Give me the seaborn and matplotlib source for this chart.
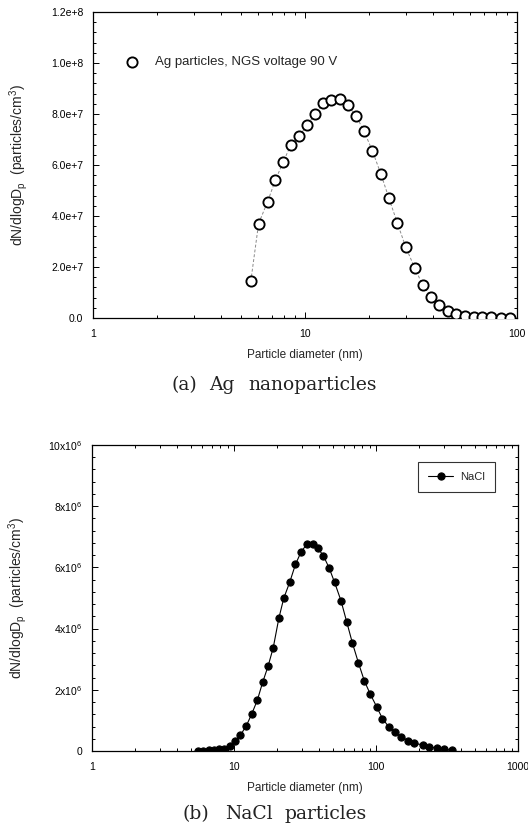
import matplotlib
matplotlib.use("Agg")
import matplotlib.pyplot as plt
import seaborn as sns
import numpy as np
import pandas as pd
from matplotlib.ticker import FixedLocator, NullFormatter, LogLocator

# ---------------- data ----------------
ag_diam = [5.55, 6.04, 6.66, 7.25, 7.88, 8.55, 9.36, 10.26, 11.2, 12.2, 13.3, 14.6,
           15.9, 17.4, 19.0, 20.8, 22.8, 24.9, 27.3, 29.9, 32.9, 35.9, 39.3, 43.0,
           47.1, 51.8, 57.0, 62.4, 68.7, 75.8, 83.6, 92.6]
ag_conc = [1.44e7, 3.70e7, 4.56e7, 5.41e7, 6.10e7, 6.77e7, 7.12e7, 7.58e7, 8.01e7,
           8.43e7, 8.53e7, 8.57e7, 8.35e7, 7.93e7, 7.32e7, 6.55e7, 5.65e7, 4.69e7,
           3.71e7, 2.77e7, 1.97e7, 1.29e7, 0.84e7, 0.52e7, 0.29e7, 0.16e7, 0.09e7,
           0.05e7, 0.03e7, 0.02e7, 0.015e7, 0.01e7]

nacl_diam = [5.56, 6.04, 6.62, 7.21, 7.82, 8.48, 9.30, 10.2, 11.1, 12.2, 13.3, 14.6,
             15.9, 17.4, 18.9, 20.7, 22.4, 24.7, 27.1, 29.7, 32.5, 35.8, 38.8, 42.6,
             46.7, 51.1, 56.7, 62.1, 68.1, 75.1, 82.8, 91.3, 101, 111, 123, 137,
             151, 169, 186, 214, 238, 269, 303, 345]
nacl_conc = [0.01e6, 0.01e6, 0.02e6, 0.03e6, 0.05e6, 0.08e6, 0.16e6, 0.33e6, 0.52e6,
             0.82e6, 1.20e6, 1.66e6, 2.24e6, 2.78e6, 3.38e6, 4.34e6, 4.99e6, 5.52e6,
             6.10e6, 6.51e6, 6.75e6, 6.78e6, 6.64e6, 6.38e6, 5.99e6, 5.51e6, 4.91e6,
             4.23e6, 3.54e6, 2.89e6, 2.29e6, 1.85e6, 1.45e6, 1.06e6, 0.79e6, 0.61e6,
             0.46e6, 0.34e6, 0.25e6, 0.20e6, 0.14e6, 0.09e6, 0.05e6, 0.03e6]

ag_yticks = [0, 2e7, 4e7, 6e7, 8e7, 1.0e8, 1.2e8]
ag_yticklabels = ["0.0", "2.0e+7", "4.0e+7", "6.0e+7", "8.0e+7", "1.0e+8", "1.2e+8"]
ag_xticks = [1, 10, 100]
ag_xticklabels = ["1", "10", "100"]

nacl_yticks = [0, 2e6, 4e6, 6e6, 8e6, 10e6]
nacl_yticklabels = ["0", r"2x10$^\mathregular{6}$", r"4x10$^\mathregular{6}$",
                    r"6x10$^\mathregular{6}$", r"8x10$^\mathregular{6}$",
                    r"10x10$^\mathregular{6}$"]
nacl_xticks = [1, 10, 100, 1000]
nacl_xticklabels = ["1", "10", "100", "1000"]

ag_label = "Ag particles, NGS voltage 90 V"
nacl_label = "NaCl"
xlabel = "Particle diameter (nm)"
ylabel = r"dN/dlogD$_\mathregular{p}$  (particles/cm$^\mathregular{3}$)"
caption_a_words = ["(a)", "Ag", "nanoparticles"]
caption_b_words = ["(b)", "NaCl", "particles"]

# ---------------- style ----------------
sns.set_style("ticks")
plt.rcParams["font.family"] = ["Liberation Sans", "DejaVu Sans"]
plt.rcParams["mathtext.fontset"] = "custom"
plt.rcParams["mathtext.rm"] = "Liberation Sans"
plt.rcParams["axes.linewidth"] = 0.9
plt.rcParams["axes.edgecolor"] = "black"

W, H = 528, 831
fig = plt.figure(figsize=(W / 100, H / 100), dpi=100)
fig.patch.set_facecolor("white")

def frac(l, t, r, b):
    return [l / W, 1 - b / H, (r - l) / W, (b - t) / H]

ax1 = fig.add_axes(frac(93, 12, 517, 318))
ax2 = fig.add_axes(frac(92, 445, 518, 751))

df_ag = pd.DataFrame({"d": ag_diam, "n": ag_conc})
df_na = pd.DataFrame({"d": nacl_diam, "n": nacl_conc})

# top: dashed grey line + open circles
sns.lineplot(data=df_ag, x="d", y="n", ax=ax1, color="#8a8a8a", lw=0.7,
             linestyle=(0, (3, 2)), legend=False, zorder=2)
sns.scatterplot(data=df_ag, x="d", y="n", ax=ax1, marker="o", s=54,
                facecolor="white", edgecolor="black", linewidth=1.35,
                label=ag_label, zorder=3)

# bottom: solid black line with filled circles
sns.lineplot(data=df_na, x="d", y="n", ax=ax2, color="black", lw=0.8,
             marker="o", markersize=5.2, markeredgecolor="black",
             markerfacecolor="black", label=nacl_label, zorder=3)

def style_axis(ax, xmax, yticks, yticklabels, xticks, xticklabels, ymax):
    ax.set_xscale("log")
    ax.set_xlim(1, xmax)
    ax.set_ylim(0, ymax)
    ax.set_yticks(yticks)
    ax.set_yticklabels(yticklabels)
    step = yticks[1] - yticks[0]
    ax.yaxis.set_minor_locator(FixedLocator(np.arange(0, ymax + step / 10, step / 5)))
    ax.set_xticks(xticks)
    ax.set_xticklabels(xticklabels)
    ax.xaxis.set_minor_locator(LogLocator(base=10, subs=np.arange(2, 10)))
    ax.xaxis.set_minor_formatter(NullFormatter())
    ax.tick_params(which="both", direction="in", top=True, right=True,
                   labelsize=7.5, colors="black", width=0.7)
    ax.tick_params(which="major", length=4.5)
    ax.tick_params(which="minor", length=2.4)
    ax.tick_params(axis="y", which="major", pad=7)
    ax.tick_params(axis="x", which="major", pad=8)
    for s in ax.spines.values():
        s.set_visible(True)
        s.set_color("black")
    ax.set_xlabel(xlabel, fontsize=8.5, labelpad=7)
    ax.set_ylabel(ylabel, fontsize=10)
    ax.yaxis.set_label_coords(-0.148, 0.5)
    ax.set_facecolor("white")

style_axis(ax1, 100, ag_yticks, ag_yticklabels, ag_xticks, ag_xticklabels, 1.2e8)
style_axis(ax2, 1000, nacl_yticks, nacl_yticklabels, nacl_xticks, nacl_xticklabels, 1.0e7)

leg1 = ax1.legend(loc="upper left", bbox_to_anchor=(0.04, 0.886), frameon=False,
                  fontsize=9.5, handletextpad=0.7, borderpad=0.2, markerscale=1.0)
leg2 = ax2.legend(loc="upper right", bbox_to_anchor=(0.96, 0.962), frameon=True,
                  fontsize=8, handlelength=2.2, handletextpad=0.7, borderpad=0.9,
                  fancybox=False)
leg2.get_frame().set_edgecolor("black")
leg2.get_frame().set_linewidth(0.8)

serif = ["DejaVu Serif", "Liberation Serif"]
for word, xc in zip(caption_a_words, [184, 221.5, 312.5]):
    fig.text(xc / W, 1 - 385 / H, word, ha="center", va="center",
             fontsize=13.5, family=serif, color="#222222")
for word, xc in zip(caption_b_words, [195.5, 248.5, 326]):
    fig.text(xc / W, 1 - 814 / H, word, ha="center", va="center",
             fontsize=13.5, family=serif, color="#222222")

fig.savefig("out.png", dpi=100, facecolor="white")
